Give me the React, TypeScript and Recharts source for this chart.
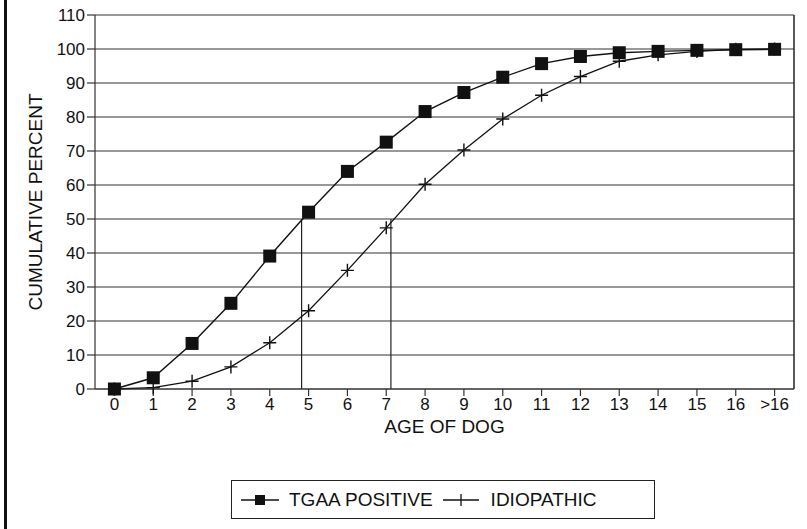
import React from 'react';
import { LineChart, Line, XAxis, YAxis, CartesianGrid, ReferenceLine, Label } from 'recharts';

// ages on the x axis (last bucket is "older than 16")
const ageLabels = ['0', '1', '2', '3', '4', '5', '6', '7', '8', '9', '10', '11', '12', '13', '14', '15', '16', '>16'];

// cumulative percent by age
const tgaaPositive = [0, 3.3, 13.4, 25.2, 39.1, 52, 64, 72.6, 81.6, 87.2, 91.7, 95.7, 97.8, 98.9, 99.3, 99.6, 99.8, 99.9];
const idiopathic = [0, 0.4, 2.3, 6.5, 13.6, 23, 34.9, 47.4, 60.2, 70.3, 79.4, 86.4, 91.9, 96.4, 98.3, 99.3, 99.9, 100];

// age at which each group reaches 50 %
const medianAges = [4.82, 7.12];

const yTicks = [0, 10, 20, 30, 40, 50, 60, 70, 80, 90, 100, 110];

const data = ageLabels.map((label, i) => ({
  x: i,
  label,
  tgaa: tgaaPositive[i],
  idio: idiopathic[i],
}));

const FONT = '"Liberation Sans", Arial, Helvetica, sans-serif';
const INK = '#111';

const SquareDot = (props: any) => {
  const { cx, cy, index } = props;
  if (cx == null || cy == null) return <g key={`sq-${index}`} />;
  return <rect key={`sq-${index}`} x={cx - 6.5} y={cy - 6.5} width={13} height={13} fill={INK} />;
};

const CrossDot = (props: any) => {
  const { cx, cy, index } = props;
  if (cx == null || cy == null) return <g key={`cr-${index}`} />;
  return (
    <path
      key={`cr-${index}`}
      d={`M${cx - 6.5},${cy} h13 M${cx},${cy - 6.5} v13`}
      stroke={INK}
      strokeWidth={1.4}
      fill="none"
    />
  );
};

const App = () => {
  return (
    <div style={{ position: 'absolute', left: 0, top: 0, width: 807, height: 529, background: '#fff', fontFamily: FONT }}>
      <div style={{ position: 'absolute', left: 4, top: 0, width: 2.5, height: 529, background: INK }} />
      <LineChart width={807} height={529} data={data} margin={{ top: 15, right: 13, left: 35, bottom: 110 }}>
        <CartesianGrid vertical={false} stroke="#333" strokeWidth={1.2} />
        <XAxis
          type="number"
          dataKey="x"
          domain={[-0.5, 17.5]}
          ticks={data.map((d) => d.x)}
          interval={0}
          tickFormatter={(v: number) => ageLabels[v]}
          tick={{ fill: INK, fontSize: 17, fontFamily: FONT }}
          tickSize={7}
          tickMargin={2}
          stroke="#333"
          strokeWidth={1.2}
          height={30}
        >
          <Label value="AGE OF DOG" position="bottom" offset={1} fill={INK} fontSize={19} fontFamily={FONT} />
        </XAxis>
        <YAxis
          type="number"
          domain={[0, 110]}
          ticks={yTicks}
          interval={0}
          tick={{ fill: INK, fontSize: 17, fontFamily: FONT }}
          tickSize={8}
          tickMargin={2}
          stroke="#333"
          strokeWidth={1.2}
          width={60}
        >
          <Label value="CUMULATIVE PERCENT" angle={-90} position="center" dx={-30} fill={INK} fontSize={19} fontFamily={FONT} />
        </YAxis>
        <ReferenceLine x={17.5} stroke="#222" strokeWidth={1.5} />
        {medianAges.map((age) => (
          <ReferenceLine
            key={age}
            segment={[{ x: age, y: 0 }, { x: age, y: 50 }]}
            stroke="#222"
            strokeWidth={1.2}
          />
        ))}
        <Line
          type="linear"
          dataKey="idio"
          name="IDIOPATHIC"
          stroke={INK}
          strokeWidth={1.3}
          dot={CrossDot}
          activeDot={false}
          isAnimationActive={false}
        />
        <Line
          type="linear"
          dataKey="tgaa"
          name="TGAA POSITIVE"
          stroke={INK}
          strokeWidth={1.4}
          dot={SquareDot}
          activeDot={false}
          isAnimationActive={false}
        />
      </LineChart>
      <div
        style={{
          position: 'absolute',
          left: 231,
          top: 480,
          width: 424,
          height: 39,
          boxSizing: 'border-box',
          border: '1.5px solid #222',
          display: 'flex',
          alignItems: 'center',
          paddingLeft: 9,
          fontSize: 19,
          color: INK,
          fontFamily: FONT,
        }}
      >
        <svg width={40} height={16} style={{ marginRight: 8 }}>
          <line x1={0} y1={8} x2={38} y2={8} stroke={INK} strokeWidth={1.4} />
          <rect x={14} y={3} width={10} height={10} fill={INK} />
        </svg>
        <span style={{ marginRight: 10 }}>TGAA POSITIVE</span>
        <svg width={36} height={16} style={{ marginRight: 12 }}>
          <line x1={0} y1={8} x2={36} y2={8} stroke={INK} strokeWidth={1.3} />
          <line x1={18} y1={2} x2={18} y2={14} stroke={INK} strokeWidth={1.3} />
        </svg>
        <span>IDIOPATHIC</span>
      </div>
    </div>
  );
};

export default App;
